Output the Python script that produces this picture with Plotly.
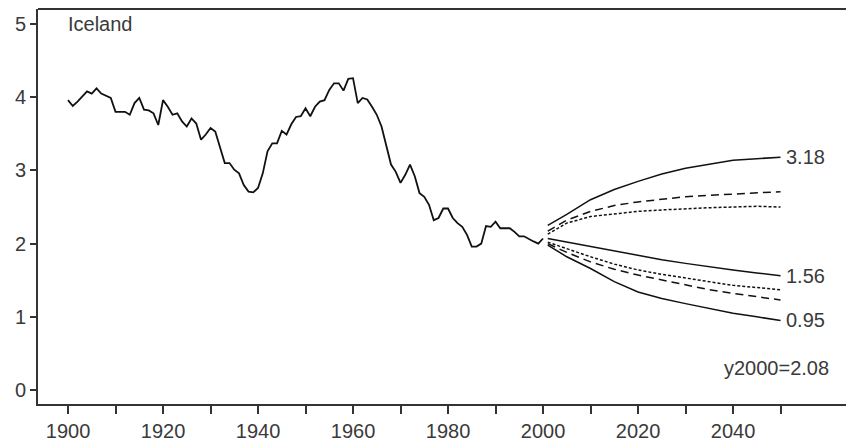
import plotly.graph_objects as go

# Historical series (annual), Iceland
hist_years = list(range(1900, 2001))
hist_values = [
    3.96, 3.88, 3.94, 4.01, 4.08, 4.05, 4.12, 4.05, 4.02, 3.99,  # 1900-1909
    3.80, 3.80, 3.80, 3.76, 3.92, 3.99, 3.83, 3.82, 3.78, 3.62,  # 1910-1919
    3.96, 3.87, 3.76, 3.78, 3.67, 3.60, 3.71, 3.64, 3.42, 3.49,  # 1920-1929
    3.58, 3.53, 3.33, 3.10, 3.10, 3.01, 2.96, 2.80, 2.71, 2.70,  # 1930-1939
    2.76, 2.96, 3.26, 3.37, 3.37, 3.54, 3.49, 3.63, 3.73, 3.74,  # 1940-1949
    3.85, 3.74, 3.87, 3.94, 3.96, 4.10, 4.19, 4.19, 4.09, 4.25,  # 1950-1959
    4.26, 3.92, 3.99, 3.97, 3.87, 3.76, 3.60, 3.33, 3.08, 2.98,  # 1960-1969
    2.83, 2.94, 3.08, 2.92, 2.69, 2.64, 2.53, 2.32, 2.35, 2.48,  # 1970-1979
    2.48, 2.35, 2.28, 2.23, 2.12, 1.96, 1.96, 2.00, 2.24, 2.23,  # 1980-1989
    2.30, 2.21, 2.21, 2.21, 2.16, 2.10, 2.10, 2.06, 2.03, 2.00,  # 1990-1999
    2.07,                                                          # 2000
]

# Forecast fan (2001-2050)
fc_years = [2001, 2005, 2010, 2015, 2020, 2025, 2030, 2035, 2040, 2045, 2050]
upper_solid = [2.25, 2.40, 2.60, 2.74, 2.85, 2.95, 3.03, 3.09, 3.14, 3.16, 3.18]
upper_dash = [2.17, 2.32, 2.44, 2.52, 2.57, 2.61, 2.64, 2.66, 2.68, 2.70, 2.71]
upper_dot = [2.13, 2.28, 2.37, 2.41, 2.44, 2.46, 2.48, 2.49, 2.50, 2.51, 2.50]
mid_solid = [2.07, 2.02, 1.96, 1.90, 1.84, 1.78, 1.73, 1.68, 1.64, 1.60, 1.56]
lower_dot = [2.02, 1.93, 1.82, 1.72, 1.64, 1.58, 1.53, 1.48, 1.43, 1.40, 1.37]
lower_dash = [2.00, 1.88, 1.75, 1.65, 1.57, 1.50, 1.43, 1.37, 1.32, 1.27, 1.23]
lower_solid = [1.98, 1.82, 1.66, 1.48, 1.34, 1.25, 1.18, 1.11, 1.05, 1.00, 0.95]

x_tickvals = list(range(1900, 2051, 10))
x_ticktext = [str(v) if v % 20 == 0 else "" for v in x_tickvals]
y_tickvals = [0, 1, 2, 3, 4, 5]

end_labels = ["3.18", "1.56", "0.95"]
end_values = [3.18, 1.56, 0.95]
country = "Iceland"
note = "y2000=2.08"

FONT = "Liberation Sans, Arial, sans-serif"
INK = "#111111"
TXT = "#3a3a3a"
FS = 20

fig = go.Figure()
fig.add_trace(go.Scatter(x=hist_years, y=hist_values, mode="lines",
                         line=dict(color=INK, width=1.8)))
for ys, dash in [(upper_solid, "solid"), (upper_dash, "8px,5px"), (upper_dot, "3px,2px"),
                 (mid_solid, "solid"), (lower_dot, "3px,2px"), (lower_dash, "8px,5px"),
                 (lower_solid, "solid")]:
    fig.add_trace(go.Scatter(x=fc_years, y=ys, mode="lines",
                             line=dict(color=INK, width=1.5, dash=dash)))

for lab, v in zip(end_labels, end_values):
    fig.add_annotation(x=2051.2, y=v, text=lab, showarrow=False, xanchor="left",
                       yanchor="middle", xshift=-2, font=dict(family=FONT, size=FS, color=TXT))
fig.add_annotation(x=2060.2, y=0.30, text=note, showarrow=False, xanchor="right",
                   yanchor="middle", xshift=2, font=dict(family=FONT, size=FS, color=TXT))
fig.add_annotation(x=1900, y=5.0, text=country, showarrow=False, xanchor="left",
                   yanchor="middle", xshift=-2, font=dict(family=FONT, size=FS, color=TXT))

# top frame line
fig.add_shape(type="line", xref="paper", yref="paper", x0=0, x1=1, y0=1, y1=1,
              line=dict(color="#333333", width=2))

fig.update_layout(
    width=846, height=440,
    margin=dict(l=30, r=1, t=1, b=44),
    paper_bgcolor="white", plot_bgcolor="white",
    showlegend=False,
    font=dict(family=FONT, size=FS, color=TXT),
    xaxis=dict(range=[1893.68, 2065.26], tickvals=x_tickvals, ticktext=x_ticktext,
               ticks="outside", ticklen=8, tickwidth=1.5, tickcolor="#333333",
               showline=True, linecolor="#333333", linewidth=2, showgrid=False,
               zeroline=False, tickfont=dict(family=FONT, size=FS, color=TXT)),
    yaxis=dict(range=[-0.191, 5.205], tickvals=y_tickvals,
               ticks="outside", ticklen=6, tickwidth=1.5, tickcolor="#333333",
               showline=True, linecolor="#333333", linewidth=2, showgrid=False,
               zeroline=False, tickfont=dict(family=FONT, size=FS, color=TXT)),
)

fig.write_html("out.html")
